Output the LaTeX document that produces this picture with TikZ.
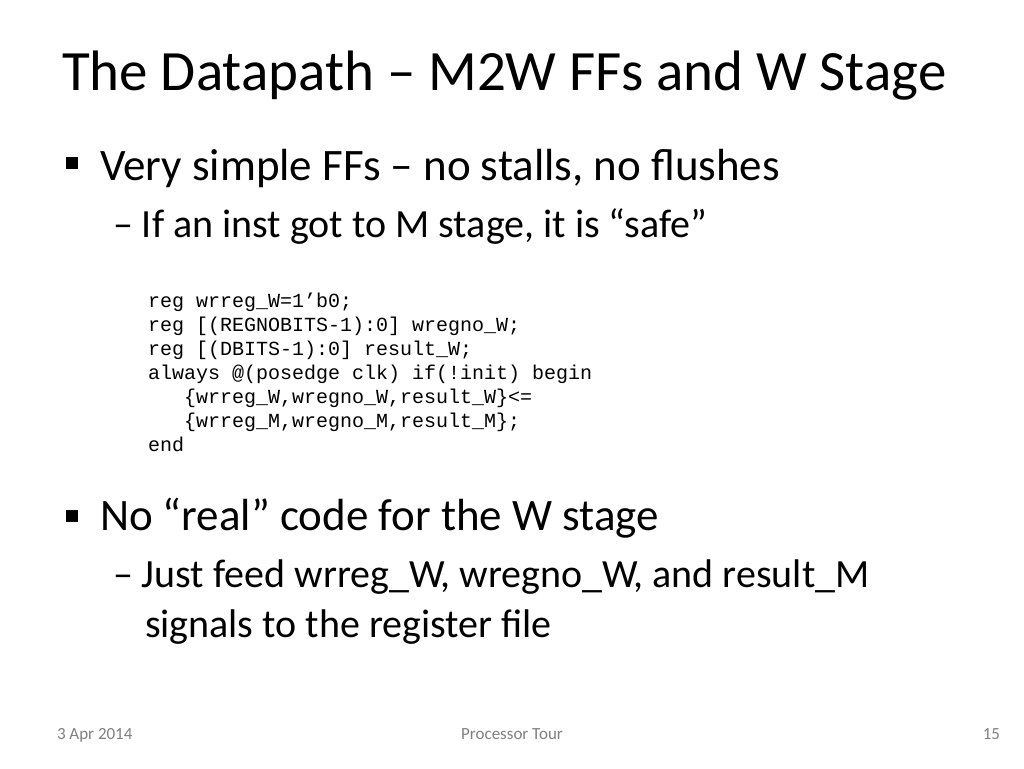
\documentclass[tikz,border=0pt]{standalone}
\usepackage{fontspec}
\setmainfont{Carlito}
\setmonofont{Liberation Mono}
\usetikzlibrary{positioning}
\tikzset{
  every node/.style = {inner sep=0pt, outer sep=0pt, anchor=base west},
  title/.style = {font=\fontsize{57}{60}\selectfont},
  lvlone/.style = {font=\fontsize{45}{50}\selectfont},
  lvltwo/.style = {font=\fontsize{40}{50}\selectfont},
  code/.style = {font=\fontsize{20}{24}\ttfamily\selectfont},
  foot/.style = {font=\fontsize{17}{18}\selectfont, text=gray},
  bullet/.style = {fill=black, minimum size=12pt, anchor=center}
}
\begin{document}
\begin{tikzpicture}[x=1pt,y=-1pt]
\useasboundingbox[fill=white] (0,0) rectangle (1024,768);

% Title
\node[title] (ttl) at (62,90) {The Datapath -- M2W FFs and W Stage};

% First bullet
\node[bullet] (b1) at (72,163) {};
\node[lvlone] (one) at (100,180) {Very simple FFs -- no stalls, no flushes};
\node[lvltwo] (onea) at (113,237) {-- If an inst got to M stage, it is “safe”};

% Code
\node[code] (c1) at (148,307) {reg wrreg\_W=1’b0;};
\node[code] (c2) at (148,331) {reg [(REGNOBITS-1):0] wregno\_W;};
\node[code] (c3) at (148,355) {reg [(DBITS-1):0] result\_W;};
\node[code] (c4) at (148,379) {always @(posedge clk) if(!init) begin};
\node[code] (c5) at (184,403) {\{wrreg\_W,wregno\_W,result\_W\}<=};
\node[code] (c6) at (184,427) {\{wrreg\_M,wregno\_M,result\_M\};};
\node[code] (c7) at (148,451) {end};

% Second bullet
\node[bullet] (b2) at (72,516) {};
\node[lvlone] (two) at (100,530) {No “real” code for the W stage};
\node[lvltwo] (twoa) at (113,587) {-- Just feed wrreg\_W, wregno\_W, and result\_M};
\node[lvltwo] (twob) at (145,637) {signals to the register file};

% Footer
\node[foot] (date) at (57,739) {3 Apr 2014};
\node[foot, anchor=base] (mid) at (512,739) {Processor Tour};
\node[foot, anchor=base east] (pg) at (1000,739) {15};
\end{tikzpicture}
\end{document}
